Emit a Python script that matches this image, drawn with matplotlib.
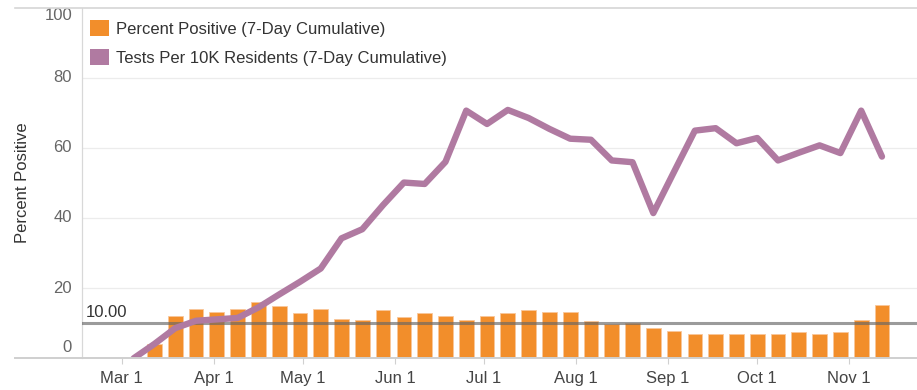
import matplotlib
matplotlib.use("Agg")
import matplotlib.pyplot as plt
import matplotlib.dates as mdates
from matplotlib.lines import Line2D
from matplotlib.patches import Patch
from matplotlib.transforms import offset_copy
import numpy as np
from datetime import datetime

plt.rcParams['font.family'] = ['Liberation Sans', 'DejaVu Sans']

# Weekly reporting dates (7-day windows)
week_dates = [
    "2020-03-05", "2020-03-12", "2020-03-19", "2020-03-26", "2020-04-02",
    "2020-04-09", "2020-04-16", "2020-04-23", "2020-04-30", "2020-05-07",
    "2020-05-14", "2020-05-21", "2020-05-28", "2020-06-04", "2020-06-11",
    "2020-06-18", "2020-06-25", "2020-07-02", "2020-07-09", "2020-07-16",
    "2020-07-23", "2020-07-30", "2020-08-06", "2020-08-13", "2020-08-20",
    "2020-08-27", "2020-09-03", "2020-09-10", "2020-09-17", "2020-09-24",
    "2020-10-01", "2020-10-08", "2020-10-15", "2020-10-22", "2020-10-29",
    "2020-11-05", "2020-11-12",
]

# Tests per 10K residents (7-day cumulative)
tests_per_10k = [
    0.0, 4.1, 8.6, 10.7, 11.1, 11.5, 14.5, 18.2, 21.8, 25.6,
    34.2, 36.8, 43.7, 50.1, 49.7, 56.0, 70.6, 66.8, 70.8, 68.5,
    65.4, 62.6, 62.3, 56.4, 55.9, 41.4, 53.2, 64.9, 65.6, 61.3,
    62.8, 56.4, 58.6, 60.7, 58.5, 70.6, 57.5,
]

# Percent positive (7-day cumulative); no value for the first week
percent_positive = [
    None, 4.0, 12.1, 14.0, 13.3, 14.0, 16.0, 14.8, 12.9, 14.1,
    11.3, 10.9, 13.7, 11.7, 12.9, 12.1, 10.9, 12.1, 12.9, 13.7,
    13.3, 13.3, 10.5, 9.9, 10.1, 8.6, 7.8, 6.9, 6.9, 6.9,
    6.9, 6.9, 7.4, 6.9, 7.4, 10.9, 15.3,
]

x_tick_dates = ["2020-03-01", "2020-04-01", "2020-05-01", "2020-06-01",
                "2020-07-01", "2020-08-01", "2020-09-01", "2020-10-01",
                "2020-11-01"]
x_tick_labels = ["Mar 1", "Apr 1", "May 1", "Jun 1", "Jul 1", "Aug 1",
                 "Sep 1", "Oct 1", "Nov 1"]
y_ticks = [0, 20, 40, 60, 80, 100]
threshold = 10.0
series_names = ["Percent Positive (7-Day Cumulative)",
                "Tests Per 10K Residents (7-Day Cumulative)"]

ORANGE = "#F28E2B"
PURPLE = "#B07AA1"

W, H = 917, 390
fig = plt.figure(figsize=(W / 100, H / 100), dpi=100)
y_bottom_px, y_top_px = 358.3, 7.5
ax = fig.add_axes([82 / W, 1 - y_bottom_px / H, 1 - 82 / W,
                   (y_bottom_px - y_top_px) / H])

dates = mdates.date2num([datetime.strptime(d, "%Y-%m-%d") for d in week_dates])
pct = np.array([np.nan if v is None else v for v in percent_positive], dtype=float)

# bars
ax.bar(dates, pct, width=4.95, color=ORANGE, edgecolor="#f9c79a",
       linewidth=0.6, zorder=2)

# threshold reference line
ax.axhline(threshold, color="#666666", alpha=0.65, linewidth=2.2, zorder=3)
ax.text(0, threshold, f"{threshold:.2f}", fontsize=12, color="#333333",
        va="bottom", ha="left",
        transform=offset_copy(ax.get_yaxis_transform(), fig=fig, x=4, y=3,
                              units="dots"), zorder=5)

# tests line
ax.plot(dates, tests_per_10k, color=PURPLE, linewidth=4.6,
        solid_joinstyle="round", solid_capstyle="round", zorder=4)

# axes limits
mar1 = mdates.date2num(datetime(2020, 3, 1))
ax.set_xlim(mar1 - 13.4, mar1 + 267.8)
ax.set_ylim(0, 100)

# gridlines
for yv in y_ticks[1:-1]:
    ax.axhline(yv, color="#ececec", linewidth=0.9, zorder=0)

# spines
for s in ["top", "right", "bottom"]:
    ax.spines[s].set_visible(False)
ax.spines["left"].set_color("#d8d8d8")
ax.spines["left"].set_linewidth(0.9)

# outer horizontal rules reaching past the y axis
fig.add_artist(Line2D([15 / W, 1], [1 - y_bottom_px / H] * 2,
                      color="#cfcfcf", linewidth=1.4))
fig.add_artist(Line2D([15 / W, 1], [1 - y_top_px / H] * 2,
                      color="#d6d6d6", linewidth=1.2))

# x ticks
ax.set_xticks(mdates.date2num([datetime.strptime(d, "%Y-%m-%d") for d in x_tick_dates]))
ax.set_xticklabels(x_tick_labels)
ax.tick_params(axis="x", length=4, width=0.8, color="#d0d0d0",
               labelsize=12, labelcolor="#444444", pad=5.5)

# y tick labels, end labels nudged inside the plot height
ax.set_yticks(y_ticks)
ax.set_yticklabels([])
ax.tick_params(axis="y", length=0)
nudge = {0: 11, 100: -8}
for yv in y_ticks:
    ax.text(0, yv, str(yv), fontsize=12, color="#666666", ha="right",
            va="center",
            transform=offset_copy(ax.get_yaxis_transform(), fig=fig,
                                  x=-10, y=nudge.get(yv, 0), units="dots"))

fig.text(23 / W, 0.5 * ((1 - y_bottom_px / H) + (1 - y_top_px / H)),
         "Percent Positive", rotation=90, fontsize=12, color="#333333",
         ha="center", va="center")

# legend
handles = [Patch(facecolor=ORANGE, edgecolor="none"),
           Patch(facecolor=PURPLE, edgecolor="none")]
leg = ax.legend(handles, series_names, loc="upper left",
                bbox_to_anchor=(90 / W, 1 - 20 / H),
                bbox_transform=fig.transFigure, frameon=False, fontsize=12,
                handlelength=1.12, handleheight=1.12, handletextpad=0.45,
                labelspacing=0.72, borderpad=0, borderaxespad=0)
for t in leg.get_texts():
    t.set_color("#333333")

fig.savefig("out.png", dpi=100, facecolor="white")
